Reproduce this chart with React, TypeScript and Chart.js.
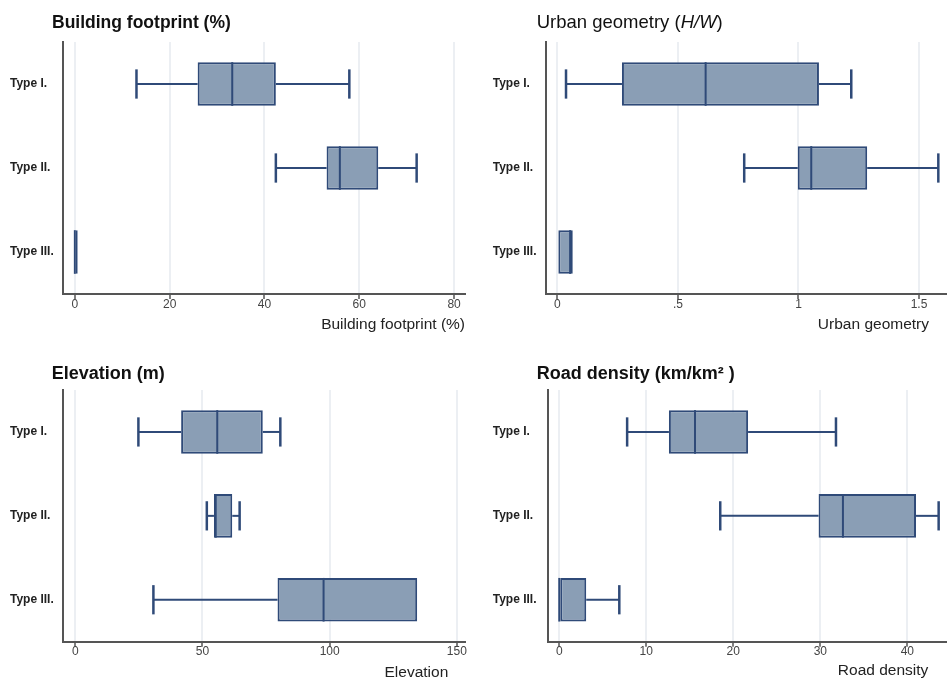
import React, { useEffect, useRef } from "react";
import { Chart, registerables } from "chart.js";

Chart.register(...registerables);

// ---------- data ----------
const categories = ["Type I.", "Type II.", "Type III."];

// Building footprint (%)
const bfMin = [13.0, 42.4, 0];
const bfQ1 = [25.9, 53.1, 0];
const bfMed = [33.2, 55.9, 0];
const bfQ3 = [42.4, 64.0, 0.6];
const bfMax = [57.9, 72.1, 0.6];
const bfTicks = [0, 20, 40, 60, 80];
const bfTickLabels = ["0", "20", "40", "60", "80"];

// Urban geometry (H/W)
const ugMin = [0.036, 0.775, 0];
const ugQ1 = [0.268, 0.997, 0];
const ugMed = [0.615, 1.053, 0.053];
const ugQ3 = [1.085, 1.285, 0.064];
const ugMax = [1.219, 1.58, 0.064];
const ugTicks = [0, 0.5, 1, 1.5];
const ugTickLabels = ["0", ".5", "1", "1.5"];

// Elevation (m)
const elMin = [24.8, 51.7, 30.7];
const elQ1 = [41.6, 54.5, 79.5];
const elMed = [55.8, 55.2, 97.6];
const elQ3 = [73.7, 61.7, 134.4];
const elMax = [80.6, 64.6, 134.4];
const elTicks = [0, 50, 100, 150];
const elTickLabels = ["0", "50", "100", "150"];

// Road density (km/km2)
const rdMin = [7.8, 18.5, 0];
const rdQ1 = [12.6, 29.8, 0];
const rdMed = [15.6, 32.6, 0];
const rdQ3 = [21.7, 41.0, 3.1];
const rdMax = [31.8, 43.6, 6.9];
const rdTicks = [0, 10, 20, 30, 40];
const rdTickLabels = ["0", "10", "20", "30", "40"];

// ---------- styles ----------
const FAMILY = "'Liberation Sans', Arial, sans-serif";
const FILL = "#8a9eb5";
const STROKE = "#2f4a78";
const AXIS = "#555555";
const GRID = "#eceff3";

type Stats = { min: number[]; q1: number[]; med: number[]; q3: number[]; max: number[] };
type Seg = { text: string; italic?: boolean };
type PanelCfg = {
  box: [number, number, number, number];
  labelLeft: number;
  areaLeft: number;
  areaTop: number;
  areaRight: number;
  areaBottom: number;
  xMin: number;
  xMax: number;
  ticks: number[];
  tickLabels: string[];
  stats: Stats;
  title: Seg[];
  titleWeight: string;
  titleSize: number;
  titleX: number;
  titleY: number;
  axisTitle: string;
  axisTitleRight: number;
  axisTitleY: number;
};

const panels: PanelCfg[] = [
  {
    box: [0, 0, 470, 340],
    labelLeft: 10, areaLeft: 63, areaTop: 42, areaRight: 465, areaBottom: 294,
    xMin: -2.5, xMax: 82.3, ticks: bfTicks, tickLabels: bfTickLabels,
    stats: { min: bfMin, q1: bfQ1, med: bfMed, q3: bfQ3, max: bfMax },
    title: [{ text: "Building footprint (%)" }], titleWeight: "bold", titleSize: 17.5,
    titleX: 52, titleY: 27.5,
    axisTitle: "Building footprint (%)", axisTitleRight: 465, axisTitleY: 328.5,
  },
  {
    box: [470, 0, 477, 340],
    labelLeft: 22.7, areaLeft: 76, areaTop: 42, areaRight: 477, areaBottom: 294,
    xMin: -0.047, xMax: 1.616, ticks: ugTicks, tickLabels: ugTickLabels,
    stats: { min: ugMin, q1: ugQ1, med: ugMed, q3: ugQ3, max: ugMax },
    title: [{ text: "Urban geometry (" }, { text: "H/W", italic: true }, { text: ")" }],
    titleWeight: "normal", titleSize: 18.5,
    titleX: 66.7, titleY: 28.3,
    axisTitle: "Urban geometry", axisTitleRight: 459, axisTitleY: 328.5,
  },
  {
    box: [0, 340, 470, 342],
    labelLeft: 10, areaLeft: 63, areaTop: 50, areaRight: 465, areaBottom: 301.7,
    xMin: -4.84, xMax: 153.2, ticks: elTicks, tickLabels: elTickLabels,
    stats: { min: elMin, q1: elQ1, med: elMed, q3: elQ3, max: elMax },
    title: [{ text: "Elevation (m)" }], titleWeight: "bold", titleSize: 18,
    titleX: 51.7, titleY: 39.3,
    axisTitle: "Elevation", axisTitleRight: 448.3, axisTitleY: 336.7,
  },
  {
    box: [470, 340, 477, 342],
    labelLeft: 22.7, areaLeft: 78.3, areaTop: 50, areaRight: 477, areaBottom: 301.7,
    xMin: -1.26, xMax: 44.56, ticks: rdTicks, tickLabels: rdTickLabels,
    stats: { min: rdMin, q1: rdQ1, med: rdMed, q3: rdQ3, max: rdMax },
    title: [{ text: "Road density (km/km\u00B2 )" }], titleWeight: "bold", titleSize: 18,
    titleX: 66.7, titleY: 39.3,
    axisTitle: "Road density", axisTitleRight: 458.3, axisTitleY: 335,
  },
];

function makePlugin(cfg: PanelCfg) {
  return {
    id: "boxWhiskerAndText",
    afterDatasetsDraw(chart: any) {
      const ctx = chart.ctx as CanvasRenderingContext2D;
      const xs = chart.scales.x;
      const meta = chart.getDatasetMeta(0);
      const st = cfg.stats;
      ctx.save();
      ctx.strokeStyle = STROKE;
      ctx.lineCap = "butt";
      meta.data.forEach((bar: any, i: number) => {
        const { y, height } = bar.getProps(["y", "height"], true);
        const half = height / 2;
        const cap = height * 0.335;
        const pMin = xs.getPixelForValue(st.min[i]);
        const pQ1 = xs.getPixelForValue(st.q1[i]);
        const pMed = xs.getPixelForValue(st.med[i]);
        const pQ3 = xs.getPixelForValue(st.q3[i]);
        const pMax = xs.getPixelForValue(st.max[i]);
        ctx.lineWidth = 2;
        if (st.min[i] < st.q1[i]) {
          ctx.beginPath();
          ctx.moveTo(pMin, y);
          ctx.lineTo(pQ1, y);
          ctx.stroke();
          ctx.lineWidth = 2.5;
          ctx.beginPath();
          ctx.moveTo(pMin, y - cap);
          ctx.lineTo(pMin, y + cap);
          ctx.stroke();
          ctx.lineWidth = 2;
        }
        if (st.max[i] > st.q3[i]) {
          ctx.beginPath();
          ctx.moveTo(pQ3, y);
          ctx.lineTo(pMax, y);
          ctx.stroke();
          ctx.lineWidth = 2.5;
          ctx.beginPath();
          ctx.moveTo(pMax, y - cap);
          ctx.lineTo(pMax, y + cap);
          ctx.stroke();
          ctx.lineWidth = 2;
        }
        ctx.beginPath();
        ctx.moveTo(pMed, y - half);
        ctx.lineTo(pMed, y + half);
        ctx.stroke();
      });
      ctx.restore();
    },
    afterDraw(chart: any) {
      const ctx = chart.ctx as CanvasRenderingContext2D;
      ctx.save();
      ctx.textBaseline = "alphabetic";
      ctx.textAlign = "left";
      ctx.fillStyle = "#111111";
      let x = cfg.titleX;
      for (const seg of cfg.title) {
        ctx.font = `${seg.italic ? "italic " : ""}${cfg.titleWeight} ${cfg.titleSize}px ${FAMILY}`;
        ctx.fillText(seg.text, x, cfg.titleY);
        x += ctx.measureText(seg.text).width;
      }
      ctx.font = `15.5px ${FAMILY}`;
      ctx.textAlign = "right";
      ctx.fillStyle = "#222222";
      ctx.fillText(cfg.axisTitle, cfg.axisTitleRight, cfg.axisTitleY);
      ctx.restore();
    },
  };
}

function Panel({ cfg }: { cfg: PanelCfg }) {
  const ref = useRef<HTMLCanvasElement>(null);
  useEffect(() => {
    if (!ref.current) return;
    const [, , w, h] = cfg.box;
    const chart = new Chart(ref.current, {
      type: "bar",
      data: {
        labels: categories,
        datasets: [
          {
            data: cfg.stats.q1.map((v, i) => [v, cfg.stats.q3[i]]) as any,
            backgroundColor: FILL,
            borderColor: STROKE,
            borderWidth: 2,
            borderSkipped: false,
            barPercentage: 0.52,
            categoryPercentage: 1,
          },
        ],
      },
      options: {
        indexAxis: "y",
        responsive: false,
        animation: false,
        devicePixelRatio: 1,
        layout: { padding: { left: cfg.labelLeft, top: cfg.areaTop, right: w - cfg.areaRight, bottom: 0 } },
        plugins: { legend: { display: false }, tooltip: { enabled: false }, title: { display: false } },
        scales: {
          x: {
            type: "linear",
            position: "bottom",
            min: cfg.xMin,
            max: cfg.xMax,
            afterBuildTicks: (s: any) => {
              s.ticks = cfg.ticks.map((v) => ({ value: v }));
            },
            afterFit: (s: any) => {
              s.height = h - cfg.areaBottom;
            },
            grid: { color: GRID, lineWidth: 2, drawTicks: true, tickLength: 5, tickColor: AXIS, tickWidth: 1.5 },
            border: { display: true, color: AXIS, width: 2 },
            ticks: {
              autoSkip: false,
              maxRotation: 0,
              padding: -2,
              color: "#444444",
              font: { family: FAMILY, size: 12 },
              callback: (_v: any, i: number) => cfg.tickLabels[i],
            },
          },
          y: {
            type: "category",
            position: "left",
            offset: true,
            afterFit: (s: any) => {
              s.width = cfg.areaLeft - cfg.labelLeft;
            },
            grid: { display: false },
            border: { display: true, color: AXIS, width: 2 },
            ticks: {
              crossAlign: "far",
              padding: 0,
              color: "#222222",
              font: { family: FAMILY, size: 12, weight: "bold" },
            },
          },
        },
      } as any,
      plugins: [makePlugin(cfg) as any],
    });
    return () => chart.destroy();
  }, [cfg]);
  const [l, t, w, h] = cfg.box;
  return (
    <canvas
      ref={ref}
      width={w}
      height={h}
      style={{ position: "absolute", left: l, top: t, width: w, height: h }}
    />
  );
}

export default function App() {
  return (
    <div style={{ position: "fixed", left: 0, top: 0, width: 947, height: 682, background: "#ffffff", overflow: "hidden" }}>
      {panels.map((p, i) => (
        <Panel key={i} cfg={p} />
      ))}
    </div>
  );
}
